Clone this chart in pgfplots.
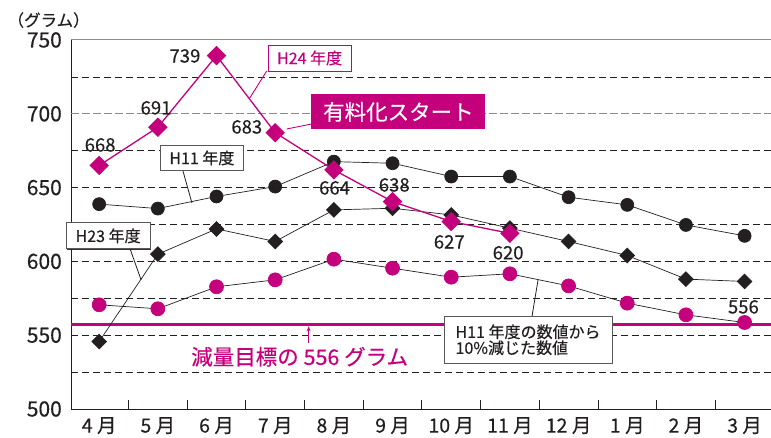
\documentclass[border=0pt]{standalone}
\usepackage{pgfplots}
\pgfplotsset{compat=1.18}
\usepackage{fontspec}
\setmainfont{Noto Sans CJK JP}[FakeBold=0.35]
\usetikzlibrary{calc,arrows.meta,shadows}
\definecolor{mag}{HTML}{C4007C}
\definecolor{blk}{HTML}{231F20}
\definecolor{gridgray}{HTML}{8C8C8C}
\newcommand\fs[1]{\fontsize{#1}{#1}\selectfont}

\pgfplotstableread{
x y
0 638.8
1 635.8
2 644.0
3 650.7
4 667.6
5 666.5
6 657.5
7 657.5
8 643.5
9 638.3
10 624.7
11 617.3
}\hElevenTbl
\pgfplotstableread{
x y
0 545.7
1 604.9
2 622.0
3 613.5
4 634.9
5 636.0
6 631.5
7 622.5
8 613.5
9 604.0
10 588.0
11 586.4
}\hTwentyThreeTbl
\pgfplotstableread{
x y
0 570.6
1 567.9
2 582.8
3 587.5
4 601.5
5 595.4
6 589.3
7 591.6
8 583.4
9 571.7
10 563.8
11 558.6
}\reducedTbl
\pgfplotstableread{
x y
0 665.0
1 690.9
2 739.4
3 687.2
4 662.0
5 640.5
6 627.0
7 619.0
}\hTwentyFourTbl

\begin{document}
\begin{tikzpicture}[
  bbox/.style={draw=blk!75, line width=0.9pt, fill=white, text=blk, inner sep=0pt,
     drop shadow={shadow xshift=1pt, shadow yshift=-1pt, fill=blk, opacity=0.9}},
]
\begin{axis}[
  scale only axis, width=700pt, height=369pt,
  xmin=-0.48, xmax=11.45, ymin=500, ymax=750,
  clip=false,
  axis x line*=bottom, axis y line*=left,
  axis line style={-, blk, line width=0.9pt},
  tick align=inside,
  xtick={0.5,1.5,...,10.5},
  xticklabels={},
  major tick length=9pt,
  xtick style={draw=blk, line width=0.8pt},
  extra x ticks={0,1,...,11},
  extra x tick labels={4 月,5 月,6 月,7 月,8 月,9 月,10 月,11 月,12 月,1 月,2 月,3 月},
  extra x tick style={major tick length=0pt, xmajorgrids=false},
  xticklabel style={font=\fs{19.5}, text=blk, anchor=north, inner sep=0pt, yshift=-8pt},
  ytick={500,550,600,650,700,750},
  yticklabels={500,550,600,650,700,750},
  ytick style={draw=none},
  yticklabel style={font=\fs{21}, text=blk, anchor=east, inner sep=0pt, xshift=-9pt},
]
% grid lines
\draw[blk, line width=0.7pt, dash pattern=on 7pt off 4pt] (rel axis cs:0,0.1) -- (rel axis cs:1,0.1);
\draw[blk, line width=0.7pt, dash pattern=on 7pt off 4pt] (rel axis cs:0,0.2) -- (rel axis cs:1,0.2);
\draw[blk, line width=0.7pt, dash pattern=on 7pt off 4pt] (rel axis cs:0,0.3) -- (rel axis cs:1,0.3);
\draw[blk, line width=0.7pt, dash pattern=on 7pt off 4pt] (rel axis cs:0,0.4) -- (rel axis cs:1,0.4);
\draw[blk, line width=0.7pt, dash pattern=on 7pt off 4pt] (rel axis cs:0,0.5) -- (rel axis cs:1,0.5);
\draw[blk, line width=0.7pt, dash pattern=on 7pt off 4pt] (rel axis cs:0,0.6) -- (rel axis cs:1,0.6);
\draw[blk, line width=0.7pt, dash pattern=on 7pt off 4pt] (rel axis cs:0,0.7) -- (rel axis cs:1,0.7);
\draw[gridgray, line width=1.1pt, dash pattern=on 8pt off 3pt] (rel axis cs:0,0.8) -- (rel axis cs:1,0.8);
\draw[blk, line width=0.7pt, dash pattern=on 7pt off 4pt] (rel axis cs:0,0.9) -- (rel axis cs:1,0.9);
\draw[gridgray, line width=1pt] (rel axis cs:0,1) -- (rel axis cs:1,1);

% target line
\addplot[mag, line width=3pt, forget plot] coordinates {(-0.48,557) (11.45,557)};

% series
\addplot[blk, line width=0.7pt, mark=*, mark size=6.5pt, mark options={fill=blk, draw=blk}] table[x=x,y=y] {\hElevenTbl};
\addplot[blk, line width=0.7pt, mark=square*, mark size=5.2pt, mark options={fill=blk, draw=blk, rotate=45}] table[x=x,y=y] {\hTwentyThreeTbl};
\addplot[blk, line width=0.7pt, mark=*, mark size=7pt, mark options={fill=mag, draw=mag}] table[x=x,y=y] {\reducedTbl};
\addplot[mag, line width=1.3pt, mark=square*, mark size=6.2pt, mark options={fill=mag, draw=mag, rotate=45}] table[x=x,y=y] {\hTwentyFourTbl};

% leaders
\draw[mag, line width=0.9pt] (axis cs:2.856,729) -- (axis cs:2.567,710.7);
\draw[mag, line width=0.9pt] (axis cs:3.621,693.1) -- (axis cs:3.196,689.7);
\draw[blk, line width=0.8pt] (axis cs:1.428,661.3) -- (axis cs:1.581,639.6);
\draw[blk, line width=0.8pt] (axis cs:0.527,608.5) -- (axis cs:0.714,587.5);
\draw[blk, line width=0.8pt] (axis cs:7.378,563.1) -- (axis cs:7.48,587.5);
\draw[mag, line width=0.9pt, -{Stealth[length=5pt,width=4pt]}] (axis cs:3.57,544.8) -- (axis cs:3.57,556.0);

% boxes
\node[draw=mag, line width=1pt, fill=white, text=mag, font=\fs{16}, minimum width=83pt, minimum height=26pt, inner sep=0pt] at (axis cs:3.587,737.8) {H24 年度};
\node[fill=mag, text=white, font=\fs{21.5}, minimum width=174pt, minimum height=35pt, inner sep=0pt] at (axis cs:5.10,701.3) {有料化スタート};
\node[bbox, font=\fs{16}, minimum width=83pt, minimum height=25pt] at (axis cs:1.751,670.1) {H11 年度};
\node[bbox, font=\fs{16}, minimum width=84pt, minimum height=26pt] at (axis cs:0.153,617.3) {H23 年度};
\node[bbox, font=\fs{16}, minimum width=168pt, minimum height=47pt, align=left] at (axis cs:7.31,546.9) {\fontsize{16}{20}\selectfont H11 年度の数値から\\10\%減じた数値};
\node[text=mag, font=\fs{21.5}] at (axis cs:3.417,535.4) {減量目標の 556 グラム};

% data labels
\node[text=blk, font=\fs{18.5}] at (axis cs:0.017,678.9) {668};
\node[text=blk, font=\fs{18.5}] at (axis cs:0.969,704) {691};
\node[text=blk, font=\fs{18.5}] at (axis cs:1.462,739.2) {739};
\node[text=blk, font=\fs{18.5}] at (axis cs:2.516,691.1) {683};
\node[text=blk, font=\fs{18.5}] at (axis cs:4.012,649.8) {664};
\node[text=blk, font=\fs{18.5}] at (axis cs:5.03,651.8) {638};
\node[text=blk, font=\fs{18.5}] at (axis cs:5.967,613.2) {627};
\node[text=blk, font=\fs{18.5}] at (axis cs:6.97,605.8) {620};
\node[text=blk, font=\fs{18.5}] at (axis cs:10.98,569.2) {556};

% unit
\node[text=blk, font=\fs{16.5}, anchor=west, inner sep=0pt] at (axis cs:-1.564,763.5) {（グラム）};

\coordinate (SW) at (rel axis cs:0,0);
\coordinate (NE) at (rel axis cs:1,1);
\end{axis}
\pgfresetboundingbox
\path[use as bounding box] ($(SW)+(-71pt,-28pt)$) rectangle ($(NE)+(0pt,40pt)$);
\end{tikzpicture}
\end{document}
